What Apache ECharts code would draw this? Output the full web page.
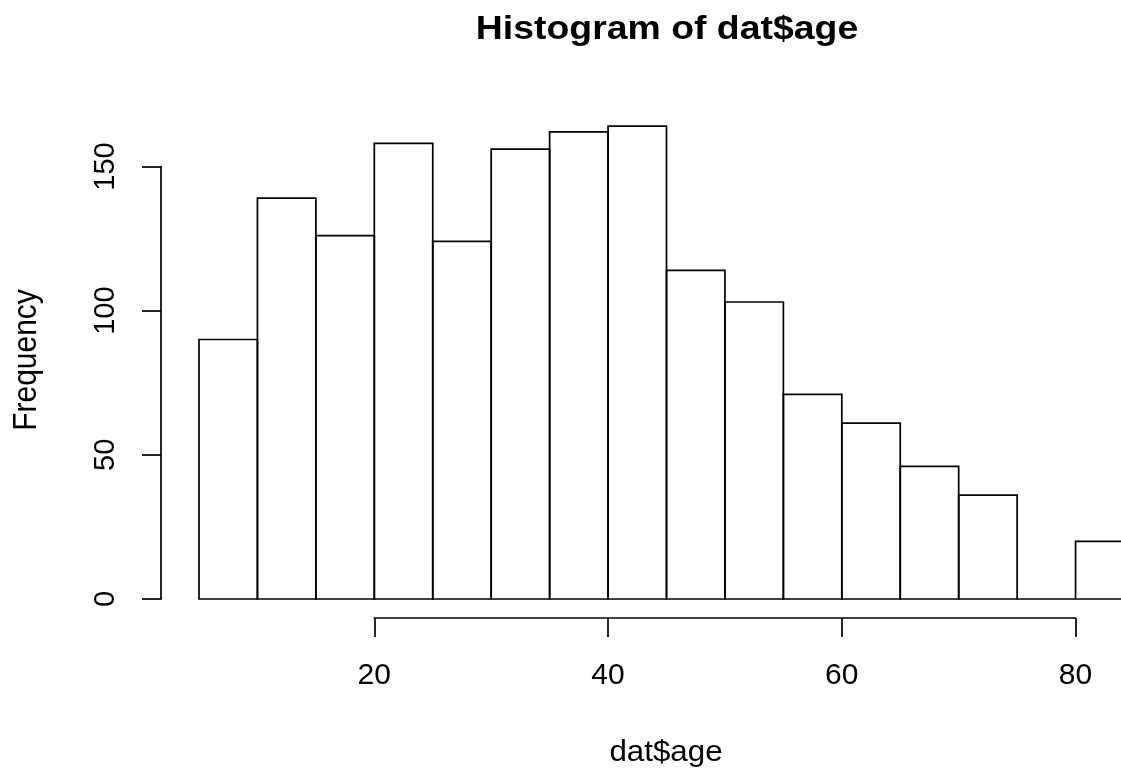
<!DOCTYPE html>
<html>
<head>
<meta charset="utf-8">
<title>Histogram of dat$age</title>
<script src="https://cdn.jsdelivr.net/npm/echarts@6.0.0/dist/echarts.min.js"></script>
<style>
  html, body { margin: 0; padding: 0; background: #fff; }
  #chart { width: 1121px; height: 769px; }
</style>
</head>
<body>
<div id="chart"></div>
<script>
// histogram bins of age (breaks every 5 years) and their counts
const binLower = [5, 10, 15, 20, 25, 30, 35, 40, 45, 50, 55, 60, 65, 70, 75, 80];
const binUpper = [10, 15, 20, 25, 30, 35, 40, 45, 50, 55, 60, 65, 70, 75, 80, 85];
const counts = [90, 139, 126, 158, 124, 156, 162, 164, 114, 103, 71, 61, 46, 36, 0, 20];
const xTicks = [20, 40, 60, 80];
const yTicks = [0, 50, 100, 150];

const font = "'Liberation Sans', Arial, Helvetica, sans-serif";
const ink = "#000";

const chart = echarts.init(document.getElementById("chart"), null, { renderer: "canvas" });

function renderBin(params, api) {
  const topLeft = api.coord([api.value(0), api.value(2)]);
  const bottomRight = api.coord([api.value(1), 0]);
  return {
    type: "rect",
    shape: {
      x: topLeft[0],
      y: topLeft[1],
      width: bottomRight[0] - topLeft[0],
      height: bottomRight[1] - topLeft[1]
    },
    style: { fill: "none", stroke: ink, lineWidth: 1.7 }
  };
}

const axisStyle = {
  axisLine: { show: true, onZero: false, lineStyle: { color: ink, width: 1.7 } },
  axisTick: { show: true, inside: false, length: 19, lineStyle: { color: ink, width: 1.7 } },
  splitLine: { show: false }
};

const option = {
  backgroundColor: "#fff",
  animation: false,
  grid: [
    // plot area runs past the right edge of the picture, as in the original
    { left: 199, top: 166.5, width: 935, height: 432.5, outerBoundsMode: "none", containLabel: false },
    { left: 374.3, top: 166.5, width: 701.2, height: 432.5, outerBoundsMode: "none", containLabel: false }
  ],
  xAxis: [
    { gridIndex: 0, type: "value", min: binLower[0], max: binUpper[binUpper.length - 1], show: false },
    Object.assign({
      gridIndex: 1,
      type: "value",
      position: "bottom",
      offset: 19,
      min: xTicks[0],
      max: xTicks[xTicks.length - 1],
      interval: 20,
      axisLabel: {
        show: true,
        margin: 43,
        color: ink,
        fontFamily: font,
        fontSize: 30,
        showMinLabel: true,
        showMaxLabel: true
      }
    }, axisStyle)
  ],
  yAxis: [
    Object.assign({
      gridIndex: 0,
      type: "value",
      position: "left",
      offset: 38,
      min: yTicks[0],
      max: yTicks[yTicks.length - 1],
      interval: 50,
      axisLabel: {
        show: true,
        rotate: 90,
        margin: 41,
        color: ink,
        fontFamily: font,
        fontSize: 29,
        showMinLabel: true,
        showMaxLabel: true
      }
    }, axisStyle),
    { gridIndex: 1, type: "value", min: yTicks[0], max: yTicks[yTicks.length - 1], show: false }
  ],
  graphic: [
    {
      type: "text",
      x: 667,
      y: 30,
      scaleX: 1.1,
      style: {
        text: "Histogram of dat$age",
        fontFamily: font,
        fontWeight: "bold",
        fontSize: 34,
        fill: ink,
        align: "center",
        verticalAlign: "middle"
      }
    },
    {
      type: "text",
      x: 666,
      y: 753,
      scaleX: 1.08,
      style: {
        text: "dat$age",
        fontFamily: font,
        fontSize: 29,
        fill: ink,
        align: "center",
        verticalAlign: "middle"
      }
    },
    {
      type: "text",
      x: 27,
      y: 360,
      rotation: Math.PI / 2,
      scaleY: 1.08,
      style: {
        text: "Frequency",
        fontFamily: font,
        fontSize: 30,
        fill: ink,
        align: "center",
        verticalAlign: "middle"
      }
    }
  ],
  series: [
    {
      type: "custom",
      xAxisIndex: 0,
      yAxisIndex: 0,
      clip: false,
      renderItem: renderBin,
      data: binLower.map((lo, i) => [lo, binUpper[i], counts[i]])
    }
  ]
};

chart.setOption(option);
</script>
</body>
</html>
